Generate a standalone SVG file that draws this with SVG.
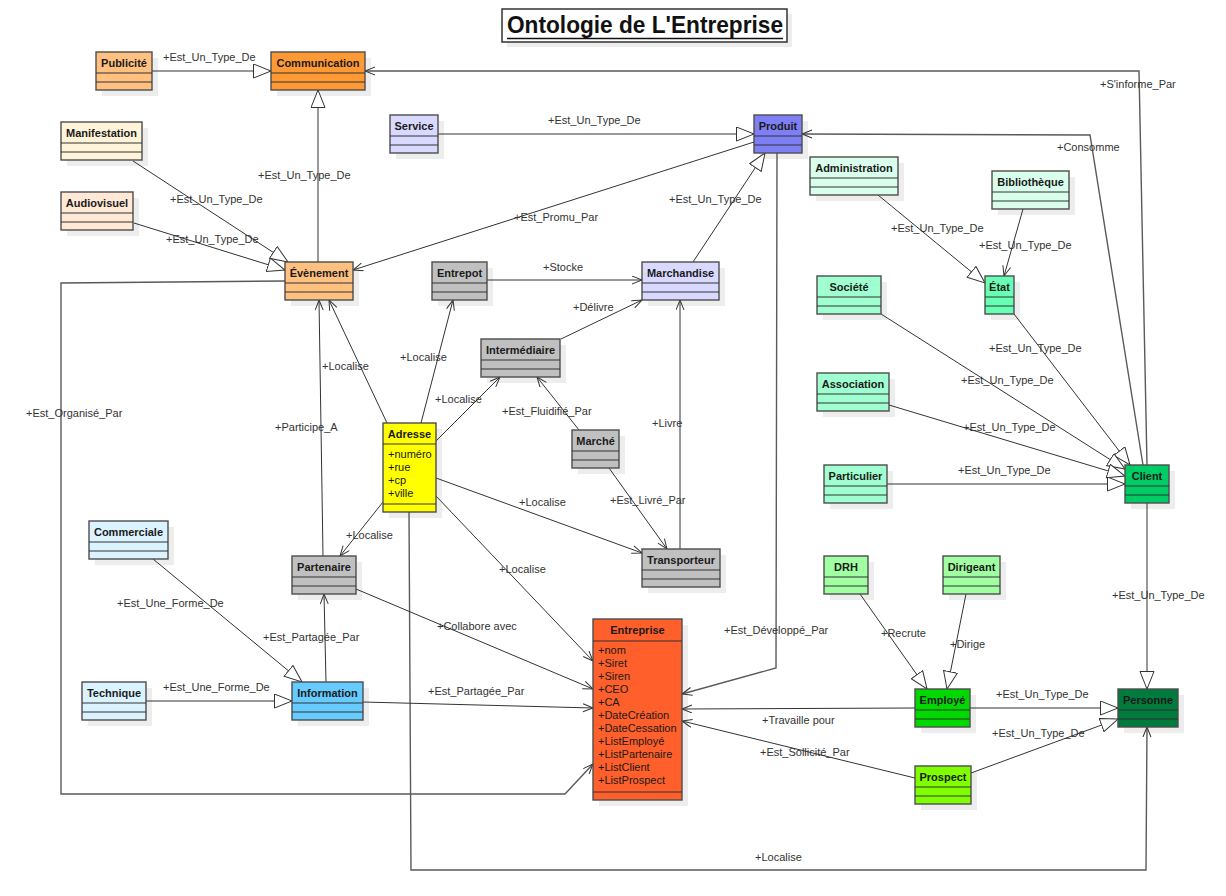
<svg xmlns="http://www.w3.org/2000/svg" width="1226" height="896" viewBox="0 0 1226 896">
<style>
.sh{fill:#ededed}
.bx{stroke:#4d4d4d;stroke-width:1.4}
.sp{stroke:#333;stroke-width:1}
.nm{font-family:"Liberation Sans",Arial,sans-serif;font-size:11px;font-weight:bold;text-anchor:middle;fill:#1a1a1a}
.at{font-family:"Liberation Sans",Arial,sans-serif;font-size:11px;fill:#1a1a1a}
.lb{font-family:"Liberation Sans",Arial,sans-serif;font-size:11px;fill:#333}
.c{fill:none;stroke:#333;stroke-width:1}
.o{fill:none;stroke:#5a5a5a;stroke-width:1.4}
.g{marker-end:url(#tri)}
.a{marker-end:url(#arr)}
</style>
<defs>
<marker id="tri" markerUnits="userSpaceOnUse" markerWidth="20" markerHeight="16" refX="18" refY="7.5" orient="auto">
<path d="M0.5,0.5 L18,7.5 L0.5,14.5 Z" fill="#fff" stroke="#333" stroke-width="1"/>
</marker>
<marker id="arr" markerUnits="userSpaceOnUse" markerWidth="12" markerHeight="10" refX="10.5" refY="4.5" orient="auto">
<path d="M0.5,0.5 L10.5,4.5 L0.5,8.5" fill="none" stroke="#333" stroke-width="1"/>
</marker>
</defs>
<rect width="1226" height="896" fill="#fff"/>

<g id="shadows">
<rect x="507" y="14" width="285" height="33" class="sh"/>
<rect x="102" y="58" width="56" height="38" class="sh"/>
<rect x="277" y="58" width="94" height="38" class="sh"/>
<rect x="67" y="128" width="81" height="38" class="sh"/>
<rect x="67" y="198" width="72" height="38" class="sh"/>
<rect x="291" y="268" width="68" height="38" class="sh"/>
<rect x="396" y="121" width="48" height="38" class="sh"/>
<rect x="760" y="121" width="48" height="38" class="sh"/>
<rect x="438" y="268" width="55" height="38" class="sh"/>
<rect x="648" y="268" width="77" height="38" class="sh"/>
<rect x="487" y="345" width="79" height="38" class="sh"/>
<rect x="578" y="436" width="47" height="38" class="sh"/>
<rect x="648" y="555" width="78" height="38" class="sh"/>
<rect x="389" y="429" width="53" height="89" class="sh"/>
<rect x="298" y="562" width="64" height="38" class="sh"/>
<rect x="95" y="527" width="79" height="38" class="sh"/>
<rect x="88" y="688" width="64" height="38" class="sh"/>
<rect x="298" y="688" width="71" height="38" class="sh"/>
<rect x="599" y="625" width="89" height="181" class="sh"/>
<rect x="816" y="163" width="88" height="38" class="sh"/>
<rect x="998" y="177" width="77" height="38" class="sh"/>
<rect x="823" y="282" width="64" height="38" class="sh"/>
<rect x="991" y="282" width="29" height="38" class="sh"/>
<rect x="823" y="379" width="72" height="38" class="sh"/>
<rect x="830" y="471" width="63" height="38" class="sh"/>
<rect x="1131" y="471" width="44" height="38" class="sh"/>
<rect x="830" y="562" width="44" height="38" class="sh"/>
<rect x="949" y="562" width="57" height="38" class="sh"/>
<rect x="921" y="695" width="55" height="38" class="sh"/>
<rect x="1124" y="695" width="60" height="38" class="sh"/>
<rect x="921" y="772" width="56" height="38" class="sh"/>
</g>

<g id="title">
<rect x="502" y="9" width="285" height="33" fill="#fff" stroke="#333" stroke-width="1.5"/>
<text x="507" y="33" font-family="Liberation Sans,Arial,sans-serif" font-size="24" font-weight="bold" fill="#111" textLength="276" lengthAdjust="spacingAndGlyphs">Ontologie de L'Entreprise</text>
<line x1="507" y1="38.5" x2="783" y2="38.5" stroke="#111" stroke-width="1.5"/>
</g>

<g id="connectors">
<polyline class="c g" points="152,71 271,71"/>
<polyline class="c g" points="318,262 318,90"/>
<polyline class="c g" points="133,161 288,262"/>
<polyline class="c g" points="134,223 285,270"/>
<polyline class="o a" points="1147,465 1139,71 365,71"/>
<polyline class="o a" points="1143,465 1090,135 802,134"/>
<polyline class="c g" points="438,134 754,134"/>
<polyline class="c a" points="754,142 353,270"/>
<polyline class="c g" points="693,262 765,153"/>
<polyline class="o a" points="777,153 776,668 682,694"/>
<polyline class="c a" points="487,280 642,280"/>
<polyline class="c a" points="561,339 642,300"/>
<polyline class="c a" points="680,549 680,300"/>
<polyline class="c a" points="579,430 537,377"/>
<polyline class="c a" points="609,468 667,549"/>
<polyline class="c a" points="387,423 329,300"/>
<polyline class="c a" points="323,556 319,300"/>
<polyline class="c a" points="421,423 453,300"/>
<polyline class="c a" points="436,441 500,377"/>
<polyline class="c a" points="436,478 642,553"/>
<polyline class="c a" points="383,502 340,556"/>
<polyline class="c a" points="436,496 593,661"/>
<polyline class="o a" points="409,512 411,870 1146,870 1147,727"/>
<polyline class="o a" points="285,281 61,283 61,794 565,794 593,764"/>
<polyline class="c g" points="153,559 302,682"/>
<polyline class="c g" points="146,701 292,701"/>
<polyline class="c a" points="326,682 324,594"/>
<polyline class="c a" points="363,702 593,708"/>
<polyline class="c a" points="356,589 593,689"/>
<polyline class="c a" points="915,708 682,709"/>
<polyline class="c a" points="915,778 682,721"/>
<polyline class="c g" points="860,594 927,689"/>
<polyline class="c g" points="966,594 947,689"/>
<polyline class="c g" points="970,708 1118,708"/>
<polyline class="c g" points="971,773 1118,719"/>
<polyline class="c g" points="1147,503 1147,689"/>
<polyline class="c g" points="878,195 985,283"/>
<polyline class="c a" points="1023,209 1004,276"/>
<polyline class="c g" points="1014,314 1130,465"/>
<polyline class="c g" points="881,314 1125,469"/>
<polyline class="c g" points="889,405 1125,476"/>
<polyline class="c g" points="887,484 1125,484"/>

<text class="lb" x="163" y="61">+Est_Un_Type_De</text>
<text class="lb" x="258" y="179">+Est_Un_Type_De</text>
<text class="lb" x="170" y="203">+Est_Un_Type_De</text>
<text class="lb" x="166" y="243">+Est_Un_Type_De</text>
<text class="lb" x="1100" y="88">+S'informe_Par</text>
<text class="lb" x="1057" y="151">+Consomme</text>
<text class="lb" x="548" y="124">+Est_Un_Type_De</text>
<text class="lb" x="514" y="221">+Est_Promu_Par</text>
<text class="lb" x="669" y="203">+Est_Un_Type_De</text>
<text class="lb" x="724" y="634">+Est_Développé_Par</text>
<text class="lb" x="543" y="271">+Stocke</text>
<text class="lb" x="573" y="311">+Délivre</text>
<text class="lb" x="652" y="427">+Livre</text>
<text class="lb" x="502" y="415">+Est_Fluidifié_Par</text>
<text class="lb" x="610" y="504">+Est_Livré_Par</text>
<text class="lb" x="322" y="370">+Localise</text>
<text class="lb" x="275" y="431">+Participe_A</text>
<text class="lb" x="400" y="361">+Localise</text>
<text class="lb" x="435" y="403">+Localise</text>
<text class="lb" x="519" y="506">+Localise</text>
<text class="lb" x="346" y="539">+Localise</text>
<text class="lb" x="499" y="573">+Localise</text>
<text class="lb" x="755" y="861">+Localise</text>
<text class="lb" x="26" y="417">+Est_Organisé_Par</text>
<text class="lb" x="117" y="607">+Est_Une_Forme_De</text>
<text class="lb" x="163" y="691">+Est_Une_Forme_De</text>
<text class="lb" x="263" y="641">+Est_Partagée_Par</text>
<text class="lb" x="428" y="695">+Est_Partagée_Par</text>
<text class="lb" x="437" y="630">+Collabore avec</text>
<text class="lb" x="762" y="724">+Travaille pour</text>
<text class="lb" x="760" y="756">+Est_Sollicité_Par</text>
<text class="lb" x="881" y="637">+Recrute</text>
<text class="lb" x="950" y="648">+Dirige</text>
<text class="lb" x="996" y="698">+Est_Un_Type_De</text>
<text class="lb" x="992" y="737">+Est_Un_Type_De</text>
<text class="lb" x="1112" y="599">+Est_Un_Type_De</text>
<text class="lb" x="891" y="232">+Est_Un_Type_De</text>
<text class="lb" x="979" y="249">+Est_Un_Type_De</text>
<text class="lb" x="989" y="352">+Est_Un_Type_De</text>
<text class="lb" x="961" y="384">+Est_Un_Type_De</text>
<text class="lb" x="963" y="431">+Est_Un_Type_De</text>
<text class="lb" x="958" y="474">+Est_Un_Type_De</text>
</g>

<g id="Publicite"><rect x="96" y="52" width="56" height="38" fill="#ffc080" class="bx"/><path d="M96,73H152M96,82H152" class="sp"/><text x="124" y="67" class="nm">Publicité</text></g>
<g id="Communication"><rect x="271" y="52" width="94" height="38" fill="#ff9933" class="bx"/><path d="M271,73H365M271,82H365" class="sp"/><text x="318" y="67" class="nm">Communication</text></g>
<g id="Manifestation"><rect x="61" y="122" width="81" height="38" fill="#fff4d9" class="bx"/><path d="M61,143H142M61,152H142" class="sp"/><text x="101.5" y="137" class="nm">Manifestation</text></g>
<g id="Audiovisuel"><rect x="61" y="192" width="72" height="38" fill="#ffe8d6" class="bx"/><path d="M61,213H133M61,222H133" class="sp"/><text x="97" y="207" class="nm">Audiovisuel</text></g>
<g id="Evenement"><rect x="285" y="262" width="68" height="38" fill="#ffc080" class="bx"/><path d="M285,283H353M285,292H353" class="sp"/><text x="319" y="277" class="nm">Évènement</text></g>
<g id="Service"><rect x="390" y="115" width="48" height="38" fill="#d9d9ff" class="bx"/><path d="M390,136H438M390,145H438" class="sp"/><text x="414" y="130" class="nm">Service</text></g>
<g id="Produit"><rect x="754" y="115" width="48" height="38" fill="#7f7ff5" class="bx"/><path d="M754,136H802M754,145H802" class="sp"/><text x="778" y="130" class="nm">Produit</text></g>
<g id="Entrepot"><rect x="432" y="262" width="55" height="38" fill="#c0c0c0" class="bx"/><path d="M432,283H487M432,292H487" class="sp"/><text x="459.5" y="277" class="nm">Entrepot</text></g>
<g id="Marchandise"><rect x="642" y="262" width="77" height="38" fill="#d9d9ff" class="bx"/><path d="M642,283H719M642,292H719" class="sp"/><text x="680.5" y="277" class="nm">Marchandise</text></g>
<g id="Intermediaire"><rect x="481" y="339" width="79" height="38" fill="#c0c0c0" class="bx"/><path d="M481,360H560M481,369H560" class="sp"/><text x="520.5" y="354" class="nm">Intermédiaire</text></g>
<g id="Marche"><rect x="572" y="430" width="47" height="38" fill="#c0c0c0" class="bx"/><path d="M572,451H619M572,460H619" class="sp"/><text x="595.5" y="445" class="nm">Marché</text></g>
<g id="Transporteur"><rect x="642" y="549" width="78" height="38" fill="#c0c0c0" class="bx"/><path d="M642,570H720M642,579H720" class="sp"/><text x="681" y="564" class="nm">Transporteur</text></g>
<g id="Adresse"><rect x="383" y="423" width="53" height="89" fill="#ffff00" class="bx"/><path d="M383,444H436M383,504H436" class="sp"/><text x="409.5" y="438" class="nm">Adresse</text>
<text x="388" y="458" class="at">+numéro</text><text x="388" y="471" class="at">+rue</text><text x="388" y="484" class="at">+cp</text><text x="388" y="497" class="at">+ville</text></g>
<g id="Partenaire"><rect x="292" y="556" width="64" height="38" fill="#c0c0c0" class="bx"/><path d="M292,577H356M292,586H356" class="sp"/><text x="324" y="571" class="nm">Partenaire</text></g>
<g id="Commerciale"><rect x="89" y="521" width="79" height="38" fill="#dbf2ff" class="bx"/><path d="M89,542H168M89,551H168" class="sp"/><text x="128.5" y="536" class="nm">Commerciale</text></g>
<g id="Technique"><rect x="82" y="682" width="64" height="38" fill="#dbf2ff" class="bx"/><path d="M82,703H146M82,712H146" class="sp"/><text x="114" y="697" class="nm">Technique</text></g>
<g id="Information"><rect x="292" y="682" width="71" height="38" fill="#66ccff" class="bx"/><path d="M292,703H363M292,712H363" class="sp"/><text x="327.5" y="697" class="nm">Information</text></g>
<g id="Entreprise"><rect x="593" y="619" width="89" height="181" fill="#ff5f2a" class="bx"/><path d="M593,641H682M593,792H682" class="sp"/><text x="637.5" y="634" class="nm">Entreprise</text>
<text x="598" y="654" class="at">+nom</text><text x="598" y="667" class="at">+Siret</text><text x="598" y="680" class="at">+Siren</text><text x="598" y="693" class="at">+CEO</text><text x="598" y="706" class="at">+CA</text><text x="598" y="719" class="at">+DateCréation</text><text x="598" y="732" class="at">+DateCessation</text><text x="598" y="745" class="at">+ListEmployé</text><text x="598" y="758" class="at">+ListPartenaire</text><text x="598" y="771" class="at">+ListClient</text><text x="598" y="784" class="at">+ListProspect</text></g>
<g id="Administration"><rect x="810" y="157" width="88" height="38" fill="#d9ffec" class="bx"/><path d="M810,178H898M810,187H898" class="sp"/><text x="854" y="172" class="nm">Administration</text></g>
<g id="Bibliotheque"><rect x="992" y="171" width="77" height="38" fill="#d9ffec" class="bx"/><path d="M992,192H1069M992,201H1069" class="sp"/><text x="1030.5" y="186" class="nm">Bibliothèque</text></g>
<g id="Societe"><rect x="817" y="276" width="64" height="38" fill="#a0ffd0" class="bx"/><path d="M817,297H881M817,306H881" class="sp"/><text x="849" y="291" class="nm">Société</text></g>
<g id="Etat"><rect x="985" y="276" width="29" height="38" fill="#66ffb3" class="bx"/><path d="M985,297H1014M985,306H1014" class="sp"/><text x="999.5" y="291" class="nm">État</text></g>
<g id="Association"><rect x="817" y="373" width="72" height="38" fill="#a0ffd0" class="bx"/><path d="M817,394H889M817,403H889" class="sp"/><text x="853" y="388" class="nm">Association</text></g>
<g id="Particulier"><rect x="824" y="465" width="63" height="38" fill="#a0ffd0" class="bx"/><path d="M824,486H887M824,495H887" class="sp"/><text x="855.5" y="480" class="nm">Particulier</text></g>
<g id="Client"><rect x="1125" y="465" width="44" height="38" fill="#00cc66" class="bx"/><path d="M1125,486H1169M1125,495H1169" class="sp"/><text x="1147" y="480" class="nm">Client</text></g>
<g id="DRH"><rect x="824" y="556" width="44" height="38" fill="#a0ffa0" class="bx"/><path d="M824,577H868M824,586H868" class="sp"/><text x="846" y="571" class="nm">DRH</text></g>
<g id="Dirigeant"><rect x="943" y="556" width="57" height="38" fill="#a0ffa0" class="bx"/><path d="M943,577H1000M943,586H1000" class="sp"/><text x="971.5" y="571" class="nm">Dirigeant</text></g>
<g id="Employe"><rect x="915" y="689" width="55" height="38" fill="#00d900" class="bx"/><path d="M915,710H970M915,719H970" class="sp"/><text x="942.5" y="704" class="nm">Employé</text></g>
<g id="Personne"><rect x="1118" y="689" width="60" height="38" fill="#007a3d" class="bx"/><path d="M1118,710H1178M1118,719H1178" class="sp"/><text x="1148" y="704" class="nm" fill="#000">Personne</text></g>
<g id="Prospect"><rect x="915" y="766" width="56" height="38" fill="#80ff00" class="bx"/><path d="M915,787H971M915,796H971" class="sp"/><text x="943" y="781" class="nm">Prospect</text></g>
</svg>
